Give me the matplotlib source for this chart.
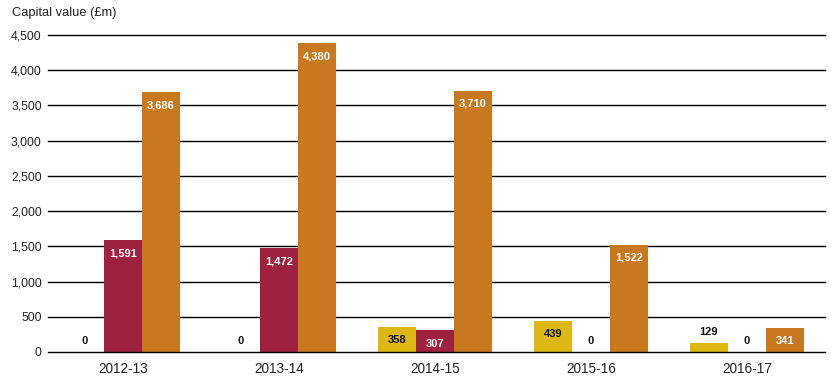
import matplotlib
matplotlib.use("Agg")
import matplotlib.pyplot as plt
import numpy as np

plt.rcParams['font.family'] = ['Liberation Sans', 'DejaVu Sans']

categories = ["2012-13", "2013-14", "2014-15", "2015-16", "2016-17"]
series_yellow = [0, 0, 358, 439, 129]
series_red = [1591, 1472, 307, 0, 0]
series_orange = [3686, 4380, 3710, 1522, 341]
yticks = [0, 500, 1000, 1500, 2000, 2500, 3000, 3500, 4000, 4500]

colors = ["#DDB713", "#9E2140", "#C87920"]
label_colors = ["#111111", "white", "white"]

fig = plt.figure(figsize=(8.31, 3.83), dpi=100)
ax = fig.add_axes([48/831, 1 - 352/383, (825-48)/831, (352-35)/383])

x = np.arange(len(categories))
w = 0.245
for i, (vals, c, lc) in enumerate(zip([series_yellow, series_red, series_orange], colors, label_colors)):
    pos = x + (i - 1) * w
    ax.bar(pos, vals, width=w, color=c, zorder=3)
    for p, v in zip(pos, vals):
        txt = f"{v:,}"
        if v == 0:
            ax.annotate(txt, (p, 0), xytext=(0, 8), textcoords="offset points",
                        ha="center", va="center", fontsize=8, fontweight="bold", color="#111111", zorder=4)
        elif v < 250:
            ax.annotate(txt, (p, v), xytext=(0, 7.5), textcoords="offset points",
                        ha="center", va="center", fontsize=8, fontweight="bold", color="#111111", zorder=4)
        else:
            ax.annotate(txt, (p, v), xytext=(0, -9.5), textcoords="offset points",
                        ha="center", va="center", fontsize=8, fontweight="bold", color=lc, zorder=4)

ax.set_xlim(-0.48, 4.5)
ax.set_ylim(0, 4500)
ax.set_yticks(yticks)
ax.set_yticklabels([f"{t:,}" for t in yticks], fontsize=8.8, color="#222222")
ax.set_xticks(x)
ax.set_xticklabels(categories, fontsize=9.8, color="#222222")
ax.tick_params(axis="x", length=0, pad=7)
ax.tick_params(axis="y", length=0, pad=4.5)
for t in yticks:
    ax.axhline(t, color="black", linewidth=1.0, zorder=(5 if t == 0 else 0), clip_on=False)
for s in ax.spines.values():
    s.set_visible(False)

fig.text(12/831, 1 - 13/383, "Capital value (£m)", fontsize=9.3, color="#222222", va="center", ha="left")

fig.savefig("out.png", dpi=100)
